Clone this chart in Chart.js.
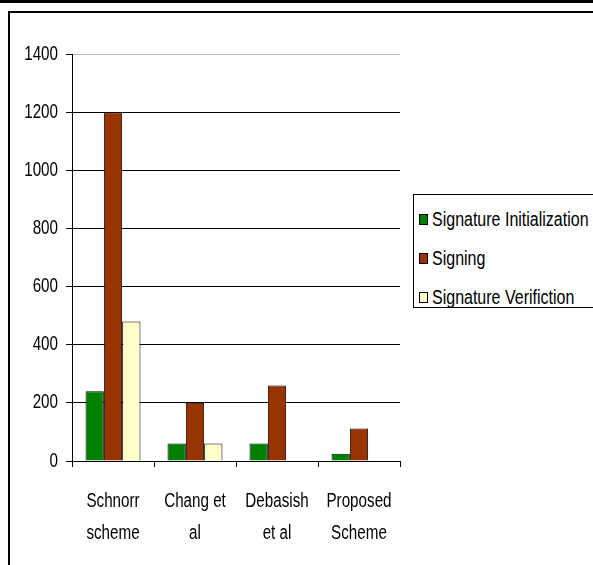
<!DOCTYPE html>
<html>
<head>
<meta charset="utf-8">
<script src="https://cdn.jsdelivr.net/npm/chart.js@4/dist/chart.umd.min.js"></script>
<style>
  html, body { margin: 0; padding: 0; background: #fff; }
  body { width: 593px; height: 565px; position: relative; overflow: hidden; }
  #topBar { position: absolute; left: 0; top: 0; width: 593px; height: 3px; background: #000; }
  #frame { position: absolute; left: 8px; top: 11px; width: 600px; height: 600px;
           border-left: 2px solid #000; border-top: 2px solid #000; }
  #chartBox { position: absolute; left: 0; top: 0; width: 593px; height: 565px; }
  #legend { position: absolute; left: 413px; top: 194px; width: 179px; height: 112px;
            border: 1px solid #000; background: #fff;
            font-family: 'Liberation Sans', Arial, sans-serif;
            font-size: 20px; color: #000; }
  #legend .item { position: absolute; left: 5px; height: 20px; line-height: 20px; white-space: nowrap; }
  #legend .swatch { position: absolute; left: 0; top: 5px; width: 7px; height: 9px; border: 1px solid #000; }
  #legend .text { position: absolute; left: 13px; top: 0; display: inline-block;
                  transform: scaleX(0.8); transform-origin: 0 50%; }
</style>
</head>
<body>
<div id="topBar"></div>
<div id="frame"></div>
<div id="chartBox"><canvas id="cryptoChart" width="593" height="565"></canvas></div>
<div id="legend"></div>
<script>
// 범주와 계열 값
const categories = [['Schnorr', 'scheme'], ['Chang et', 'al'], ['Debasish', 'et al'], ['Proposed', 'Scheme']];
const seriesNames = ['Signature Initialization', 'Signing', 'Signature Verifiction'];
const initValues = [240, 60, 60, 25];
const signValues = [1200, 200, 260, 112];
const verifyValues = [480, 60, null, null];
const yTicks = [0, 200, 400, 600, 800, 1000, 1200, 1400];

const seriesColors = ['#008000', '#993300', '#ffffcc'];
const fontFamily = "'Liberation Sans', Arial, sans-serif";
const textSqueeze = 0.76; // 좁은 글꼴 느낌으로 가로 압축

const datasets = [initValues, signValues, verifyValues].map(function(values, i) {
    return {
        label: seriesNames[i],
        data: values,
        backgroundColor: seriesColors[i],
        borderColor: '#000',
        borderWidth: 1,
        barPercentage: 1.0,
        categoryPercentage: 0.67
    };
});

const ctx = document.getElementById('cryptoChart').getContext('2d');

// 캔버스 글자를 가로로 압축해서 그리기
const origFillText = ctx.fillText;
ctx.fillText = function(text, x, y, maxWidth) {
    this.save();
    this.translate(x, y);
    this.scale(textSqueeze, 1);
    if (maxWidth !== undefined) origFillText.call(this, text, 0, 0, maxWidth / textSqueeze);
    else origFillText.call(this, text, 0, 0);
    this.restore();
};

new Chart(ctx, {
    type: 'bar',
    data: { labels: categories, datasets: datasets },
    options: {
        responsive: false,
        animation: false,
        layout: { padding: { left: 0, right: 193, top: 54, bottom: 0 } },
        plugins: {
            legend: { display: false },
            tooltip: { enabled: false }
        },
        scales: {
            x: {
                afterFit: function(scale) { scale.height = 104; },
                grid: {
                    offset: true,
                    drawOnChartArea: false,
                    drawTicks: true,
                    tickLength: 6,
                    color: '#000'
                },
                border: { display: true, color: '#000', width: 1 },
                ticks: {
                    color: '#000',
                    padding: 18,
                    font: { family: fontFamily, size: 20, lineHeight: '32px' },
                    maxRotation: 0,
                    autoSkip: false
                }
            },
            y: {
                min: 0,
                max: 1400,
                afterFit: function(scale) { scale.width = 72; },
                afterBuildTicks: function(scale) {
                    scale.ticks = yTicks.map(function(v) { return { value: v }; });
                },
                grid: {
                    drawTicks: true,
                    tickLength: 6,
                    lineWidth: 1,
                    tickColor: '#000',
                    color: function(c) {
                        // 맨 위 눈금선만 회색
                        return c.tick && c.tick.value === 1400 ? '#c0c0c0' : '#000';
                    }
                },
                border: { display: true, color: '#000', width: 1 },
                ticks: {
                    color: '#000',
                    padding: 8,
                    font: { family: fontFamily, size: 20 },
                    callback: function(value) { return String(value); }
                }
            }
        }
    }
});

// 범례 (HTML)
const legendBox = document.getElementById('legend');
const legendRows = [14, 53, 92];
seriesNames.forEach(function(name, i) {
    const item = document.createElement('div');
    item.className = 'item';
    item.style.top = legendRows[i] + 'px';
    item.innerHTML = '<span class="swatch" style="background:' + seriesColors[i] + '"></span>' +
                     '<span class="text">' + name + '</span>';
    legendBox.appendChild(item);
});
</script>
</body>
</html>
